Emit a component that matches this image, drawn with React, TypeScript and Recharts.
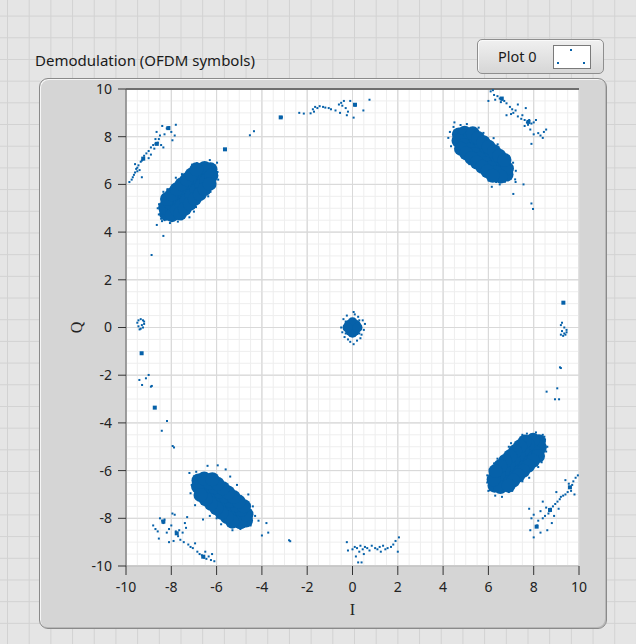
import { ScatterChart, Scatter, XAxis, YAxis, CartesianGrid, ReferenceLine } from 'recharts'

type Pt = [number, number]

const AXIS_TICKS = [-10, -8, -6, -4, -2, 0, 2, 4, 6, 8, 10]
const MINOR_LINES = [
  -9.5, -9, -8.5, -7.5, -7, -6.5, -5.5, -5, -4.5, -3.5, -3, -2.5, -1.5, -1, -0.5,
  0.5, 1, 1.5, 2.5, 3, 3.5, 4.5, 5, 5.5, 6.5, 7, 7.5, 8.5, 9, 9.5,
]

// dense constellation clouds (I, Q)
const coreUL: Pt[] = [
  [-8.23, 4.77], [-8.01, 4.98], [-7.79, 5.18], [-7.58, 5.39], [-7.36, 5.6], [-7.14, 5.8], [-6.92, 6.01], [-6.71, 6.22], [-6.49, 6.42], [-6.27, 6.63],
  [-8.27, 5.03], [-8.06, 5.24], [-7.84, 5.45], [-7.62, 5.65], [-7.4, 5.86], [-7.18, 6.07], [-6.97, 6.27], [-6.75, 6.48], [-6.53, 6.69],
  [-7.97, 4.71], [-7.75, 4.92], [-7.53, 5.13], [-7.32, 5.33], [-7.1, 5.54], [-6.88, 5.75], [-6.66, 5.95], [-6.45, 6.16], [-6.23, 6.37],
  [-8.19, 5.39], [-7.97, 5.59], [-7.76, 5.8], [-7.54, 6.01], [-7.32, 6.21], [-7.1, 6.42], [-6.89, 6.63],
  [-7.61, 4.78], [-7.4, 4.98], [-7.18, 5.19], [-6.96, 5.4], [-6.74, 5.6], [-6.53, 5.81], [-6.31, 6.02],
]
const coreUR: Pt[] = [
  [4.7, 8.09], [4.93, 7.91], [5.17, 7.72], [5.4, 7.53], [5.63, 7.34], [5.87, 7.16], [6.1, 6.97], [6.34, 6.78], [6.57, 6.59], [6.8, 6.41],
  [4.95, 8.17], [5.19, 7.98], [5.42, 7.8], [5.65, 7.61], [5.89, 7.42], [6.12, 7.23], [6.36, 7.05], [6.59, 6.86], [6.82, 6.67],
  [4.68, 7.83], [4.91, 7.64], [5.14, 7.45], [5.38, 7.27], [5.61, 7.08], [5.85, 6.89], [6.08, 6.7], [6.31, 6.52], [6.55, 6.33],
  [5.31, 8.14], [5.54, 7.95], [5.78, 7.77], [6.01, 7.58], [6.25, 7.39], [6.48, 7.2], [6.71, 7.02],
  [4.79, 7.49], [5.02, 7.3], [5.25, 7.11], [5.49, 6.92], [5.72, 6.74], [5.96, 6.55], [6.19, 6.36],
]
const coreLL: Pt[] = [
  [-4.7, -8.09], [-4.93, -7.91], [-5.17, -7.72], [-5.4, -7.53], [-5.63, -7.34], [-5.87, -7.16], [-6.1, -6.97], [-6.34, -6.78], [-6.57, -6.59], [-6.8, -6.41],
  [-4.95, -8.17], [-5.19, -7.98], [-5.42, -7.8], [-5.65, -7.61], [-5.89, -7.42], [-6.12, -7.23], [-6.36, -7.05], [-6.59, -6.86], [-6.82, -6.67],
  [-4.68, -7.83], [-4.91, -7.64], [-5.14, -7.45], [-5.38, -7.27], [-5.61, -7.08], [-5.85, -6.89], [-6.08, -6.7], [-6.31, -6.52], [-6.55, -6.33],
  [-5.31, -8.14], [-5.54, -7.95], [-5.78, -7.77], [-6.01, -7.58], [-6.25, -7.39], [-6.48, -7.2], [-6.71, -7.02],
  [-4.79, -7.49], [-5.02, -7.3], [-5.25, -7.11], [-5.49, -6.92], [-5.72, -6.74], [-5.96, -6.55], [-6.19, -6.36],
]
const coreLR: Pt[] = [
  [8.23, -4.77], [8.01, -4.98], [7.79, -5.18], [7.58, -5.39], [7.36, -5.6], [7.14, -5.8], [6.92, -6.01], [6.71, -6.22], [6.49, -6.42], [6.27, -6.63],
  [8.27, -5.03], [8.06, -5.24], [7.84, -5.45], [7.62, -5.65], [7.4, -5.86], [7.18, -6.07], [6.97, -6.27], [6.75, -6.48], [6.53, -6.69],
  [7.97, -4.71], [7.75, -4.92], [7.53, -5.13], [7.32, -5.33], [7.1, -5.54], [6.88, -5.75], [6.66, -5.95], [6.45, -6.16], [6.23, -6.37],
  [8.19, -5.39], [7.97, -5.59], [7.76, -5.8], [7.54, -6.01], [7.32, -6.21], [7.1, -6.42], [6.89, -6.63],
  [7.61, -4.78], [7.4, -4.98], [7.18, -5.19], [6.96, -5.4], [6.74, -5.6], [6.53, -5.81], [6.31, -6.02],
]
const coreCenter: Pt[] = [
  [0, 0], [0.15, 0.1], [-0.15, 0.1], [0.1, -0.15], [-0.1, -0.15], [0, 0.22], [0, -0.22], [0.22, 0], [-0.22, 0],
]

// loose samples around the clouds
const fuzzUL: Pt[] = [
  [-8.55, 4.74], [-8.06, 4.38], [-8.54, 5.17], [-7.53, 4.54], [-8.17, 5.8], [-6.91, 5.05], [-7.53, 6.43],
  [-6.27, 5.69], [-6.87, 6.89], [-5.96, 6.52], [-6.3, 7.02], [-8.41, 4.46], [-7.8, 6.28], [-6.37, 5.5],
  [-8.35, 5.69], [-5.93, 6.2], [-5.98, 6.91], [-7.71, 4.44], [-7.08, 6.83], [-7.0, 4.86], [-8.64, 4.3],
  [-8.35, 3.84], [-8.87, 3.04], [-8.4, 4.95], [-8.6, 5.0], [-7.2, 4.62],
  [-8.39, 5.45], [-7.56, 4.58], [-7.88, 5.93], [-7.05, 5.06], [-7.45, 6.34], [-6.62, 5.47], [-6.94, 6.82],
  [-6.11, 5.95], [-6.09, 6.8], [-8.45, 4.56], [-8.5, 4.9], [-8.3, 4.5],
]
const fuzzUR: Pt[] = [
  [4.46, 8.41], [4.23, 7.95], [5.05, 8.53], [4.56, 7.39], [5.78, 8.16], [5.16, 6.85], [6.41, 7.68],
  [5.8, 6.38], [6.91, 7.17], [6.73, 6.11], [7.21, 6.57], [7.18, 6.21], [6.01, 6.16], [6.34, 6.1],
  [5.57, 8.38], [7.09, 6.91], [6.23, 7.94], [4.77, 8.49], [4.3, 8.2], [4.35, 7.6], [4.5, 8.6],
  [6.5, 6.0], [6.15, 5.9], [7.55, 6.0], [7.1, 5.6], [7.9, 5.2], [7.97, 4.97], [7.2, 6.1],
  [5.35, 8.34], [4.6, 7.41], [5.89, 7.91], [5.14, 6.97], [6.36, 7.53], [5.61, 6.6], [6.91, 7.09],
  [6.16, 6.16], [7.0, 6.25], [4.5, 8.25],
]
const fuzzLL: Pt[] = [
  [-7.2, -6.1], [-7.1, -6.6], [-6.9, -6.05], [-6.4, -5.8], [-5.95, -5.78], [-5.4, -6.25], [-5.1, -6.6],
  [-4.6, -7.0], [-4.4, -7.5], [-4.3, -7.9], [-4.5, -8.3], [-4.95, -8.45], [-5.3, -8.5], [-5.8, -8.25],
  [-6.3, -7.9], [-6.6, -8.05], [-6.95, -7.45], [-7.15, -6.95], [-6.0, -8.0], [-4.15, -8.1], [-3.8, -8.2],
  [-3.72, -8.6], [-4.0, -8.72], [-2.8, -8.92], [-2.75, -8.96], [-5.6, -5.95],
  [-5.35, -8.34], [-4.6, -7.41], [-5.89, -7.91], [-5.14, -6.97], [-6.36, -7.53], [-5.61, -6.6], [-6.91, -7.09],
  [-6.16, -6.16], [-7.0, -6.25], [-4.5, -8.25],
]
const fuzzLR: Pt[] = [
  [8.5, -4.7], [8.1, -4.4], [8.55, -5.2], [7.5, -4.5], [8.2, -5.85], [6.9, -5.0], [7.5, -6.45],
  [6.25, -5.7], [6.9, -6.9], [5.95, -6.5], [6.3, -7.05], [8.4, -4.5], [7.8, -6.3], [6.4, -5.5],
  [8.35, -5.65], [5.95, -6.2], [6.0, -6.85], [7.7, -4.45], [7.05, -6.85], [7.0, -4.85], [6.6, -7.1],
  [8.6, -5.0], [8.38, -5.47], [7.55, -4.6], [7.9, -5.95], [7.04, -5.08], [7.43, -6.36], [6.6, -5.45],
  [6.95, -6.8], [6.12, -5.93], [6.07, -6.82], [8.47, -4.58],
]
const fuzzCenter: Pt[] = [
  [0.45, 0.3], [-0.4, 0.35], [0.35, -0.45], [-0.35, -0.4], [0.5, -0.1], [-0.5, 0.0], [0.1, 0.55],
  [-0.1, -0.6], [0.25, 0.45], [-0.25, 0.5], [0.4, -0.3], [-0.45, -0.2], [0.2, -0.55], [-0.2, -0.5],
  [0.55, 0.15], [0.05, 0.65], [0.05, -0.7], [0.3, 0.3], [-0.3, 0.25], [0.3, -0.25], [-0.3, -0.25],
]

// smeared symbols around the outer ring
const ringTop: Pt[] = [
  [-4.35, 8.23], [-3.2, 8.8], [-3.12, 8.82], [-2.35, 9.0], [-2.15, 8.97], [-1.85, 8.98], [-1.75, 9.15],
  [-1.65, 9.25], [-1.55, 9.2], [-1.45, 9.28], [-1.3, 9.25], [-1.2, 9.22], [-1.05, 9.2], [-0.95, 9.15],
  [-0.75, 9.1], [-0.6, 9.35], [-0.5, 9.42], [-0.45, 9.3], [-0.38, 9.5], [-0.3, 9.2], [-0.25, 8.9],
  [-0.2, 9.05], [0.05, 8.8], [0.1, 9.35], [0.12, 9.3], [0.48, 9.1], [0.75, 9.55], [-1.7, 9.05],
  [-0.55, 9.0], [-0.1, 9.5], [-4.53, 8.06], [-5.63, 7.47],
]
const ringBottom: Pt[] = [
  [-0.25, -9.0], [-0.2, -9.35], [0.0, -9.3], [0.1, -9.2], [0.2, -9.25], [0.3, -9.4], [0.35, -9.15],
  [0.45, -9.3], [0.55, -9.2], [0.65, -9.25], [0.75, -9.35], [0.85, -9.15], [1.0, -9.25], [1.1, -9.3],
  [1.2, -9.2], [1.35, -9.15], [1.45, -9.3], [1.55, -9.25], [1.7, -9.2], [1.8, -9.1], [1.9, -8.95],
  [2.0, -9.4], [2.05, -8.8], [0.5, -9.5], [0.15, -9.6], [0.25, -9.85], [0.4, -9.85], [1.25, -9.4],
]
const ringLeft: Pt[] = [
  [-9.45, 0.3], [-9.35, 0.35], [-9.25, 0.3], [-9.2, 0.15], [-9.25, 0.0], [-9.35, -0.05], [-9.45, 0.05],
  [-9.5, 0.2], [-9.3, 0.1], [-9.2, 0.25], [-9.4, -0.08], [-9.0, -1.99], [-9.41, -2.2], [-9.12, -2.13],
  [-9.29, -2.41], [-8.9, -2.48], [-8.86, -2.45], [-8.19, -3.92], [-8.42, -4.33], [-7.94, -4.97], [-7.88, -5.03],
]
const ringRight: Pt[] = [
  [9.2, 0.1], [9.25, 0.2], [9.35, 0.0], [9.45, -0.2], [9.4, -0.3], [9.3, -0.35], [9.2, -0.3],
  [9.25, -0.15], [9.35, -0.25], [9.45, -0.1], [9.16, -1.67], [9.2, -1.7], [8.57, -2.69], [9.04, -2.55],
  [8.94, -3.01], [9.12, -3.01],
]
const tailUL: Pt[] = [
  [-9.85, 6.1], [-9.7, 6.3], [-9.6, 6.5], [-9.55, 6.65], [-9.45, 6.8], [-9.35, 6.95], [-9.25, 7.05],
  [-9.2, 7.2], [-9.1, 7.3], [-9.3, 7.0], [-9.5, 6.55], [-9.75, 6.2], [-9.4, 6.6], [-9.0, 7.4],
  [-8.9, 7.55], [-8.8, 7.65], [-8.7, 7.7], [-8.6, 7.75], [-8.55, 7.9], [-8.7, 7.9], [-8.45, 7.65],
  [-8.5, 8.05], [-8.3, 8.1], [-8.2, 8.35], [-8.1, 8.4], [-8.4, 8.45], [-8.0, 8.2], [-7.85, 8.05],
  [-7.8, 8.5], [-8.65, 8.2], [-9.0, 7.1], [-9.6, 6.85], [-9.3, 6.3], [-8.9, 7.25], [-8.35, 7.55],
  [-7.95, 7.85], [-9.65, 6.4], [-9.5, 6.7], [-8.75, 7.5],
]
const tailUR: Pt[] = [
  [6.1, 9.9], [6.2, 9.95], [6.25, 9.75], [6.4, 9.7], [6.5, 9.6], [6.6, 9.55], [6.7, 9.5],
  [6.55, 9.45], [6.3, 9.55], [6.0, 9.5], [6.8, 9.4], [6.95, 9.25], [7.05, 9.15], [7.1, 9.0],
  [7.2, 9.1], [7.0, 8.95], [6.8, 8.9], [7.3, 8.85], [7.45, 8.75], [7.6, 8.7], [7.7, 8.6],
  [7.8, 8.7], [7.75, 8.5], [7.9, 8.55], [7.6, 8.45], [8.0, 8.6], [7.85, 8.3], [7.5, 8.9],
  [8.0, 8.1], [7.9, 7.7], [8.2, 8.15], [8.3, 8.05], [8.45, 8.2], [8.55, 8.3], [8.4, 7.95],
  [7.65, 9.2], [7.3, 9.35], [8.1, 8.7],
]
const tailLL: Pt[] = [
  [-8.8, -8.3], [-8.7, -8.45], [-8.6, -8.55], [-8.5, -8.0], [-8.4, -8.1], [-8.35, -8.2], [-8.3, -8.05],
  [-8.55, -8.85], [-8.2, -8.6], [-8.1, -8.45], [-8.0, -8.3], [-7.95, -7.8], [-7.85, -7.85], [-7.8, -8.55],
  [-7.75, -8.65], [-7.7, -8.75], [-7.65, -8.5], [-7.6, -8.9], [-7.5, -8.6], [-7.45, -9.0], [-7.35, -8.4],
  [-7.3, -7.95], [-7.25, -9.1], [-7.15, -9.2], [-7.05, -9.25], [-6.95, -9.05], [-6.85, -9.4], [-6.75, -9.5],
  [-6.65, -9.55], [-6.55, -9.65], [-6.45, -9.7], [-6.35, -9.6], [-6.25, -9.75], [-6.1, -9.8], [-6.5, -9.4],
  [-6.2, -9.5], [-7.9, -8.95], [-8.1, -9.0], [-7.4, -8.2],
]
const tailLR: Pt[] = [
  [9.95, -6.2], [9.85, -6.3], [9.75, -6.45], [9.7, -6.6], [9.6, -6.7], [9.55, -6.55], [9.65, -6.85],
  [9.5, -6.9], [9.4, -7.0], [9.3, -7.05], [9.2, -7.1], [9.15, -7.2], [9.05, -7.3], [8.95, -7.4],
  [8.85, -7.5], [8.75, -7.6], [8.7, -7.7], [8.65, -7.8], [8.55, -7.55], [8.5, -7.9], [8.4, -8.0],
  [8.3, -7.7], [8.2, -8.1], [8.1, -8.35], [8.15, -8.3], [8.0, -7.85], [7.9, -8.0], [7.85, -8.5],
  [8.0, -8.8], [8.3, -8.6], [8.6, -8.5], [8.9, -7.9], [9.1, -7.6], [9.4, -6.4], [9.0, -6.9],
  [8.4, -7.3], [7.8, -7.6], [9.8, -7.0], [8.8, -8.2],
]
// little solid clumps
const spots: Pt[] = [
  [-8.13, 8.36], [0.11, 9.34], [6.59, 9.6], [7.77, 8.62], [-9.31, -1.08], [-8.73, -3.36], [9.31, 1.04],
  [8.13, -8.35], [8.72, -7.65], [-7.76, -8.63], [-6.59, -9.61], [-8.35, -8.14], [-9.24, 7.08],
  [-8.64, 7.7], [-3.17, 8.81], [-5.63, 7.47], [9.6, -6.7],
]

const BLUE = '#0661a9'
const toPts = (arr: Pt[]) => arr.map(([i, q]) => ({ i, q }))

const coreData = toPts([...coreUL, ...coreUR, ...coreLL, ...coreLR])
const centerData = toPts(coreCenter)
const dotData = toPts([
  ...fuzzUL, ...fuzzUR, ...fuzzLL, ...fuzzLR, ...fuzzCenter,
  ...ringTop, ...ringBottom, ...ringLeft, ...ringRight,
  ...tailUL, ...tailUR, ...tailLL, ...tailLR,
])
const spotData = toPts(spots)

const circleShape = (r: number) => (p: any) => (
  <circle cx={p.cx} cy={p.cy} r={r} fill={BLUE} />
)
const squareShape = (s: number) => (p: any) => (
  <rect x={p.cx - s / 2} y={p.cy - s / 2} width={s} height={s} fill={BLUE} />
)

const uiFont = '"Noto Sans", "Open Sans", sans-serif'
const tickStyle = { fontFamily: uiFont, fontSize: 14, fill: '#222' }

export default function App() {
  return (
    <div
      style={{
        position: 'absolute',
        left: 0,
        top: 0,
        width: 636,
        height: 644,
        backgroundColor: '#e5e5e5',
        backgroundImage:
          'linear-gradient(#d2d2d2 1px, transparent 1px), linear-gradient(90deg, #d2d2d2 1px, transparent 1px)',
        backgroundSize: '21.7px 21.7px',
        backgroundPosition: '7px 15.6px',
        overflow: 'hidden',
      }}
    >
      {/* Title */}
      <div
        style={{
          position: 'absolute',
          left: 35,
          top: 50,
          fontFamily: uiFont,
          fontSize: 15,
          color: '#1a1a1a',
          whiteSpace: 'nowrap',
        }}
      >
        Demodulation (OFDM symbols)
      </div>

      {/* Plot legend */}
      <div
        style={{
          position: 'absolute',
          left: 477,
          top: 39,
          width: 127,
          height: 35,
          boxSizing: 'border-box',
          borderRadius: 5,
          border: '1px solid #8e8e8e',
          background: 'linear-gradient(#f0f0f0, #d6d6d6)',
          boxShadow: 'inset 1px 1px 0 #fafafa',
        }}
      >
        <span
          style={{
            position: 'absolute',
            left: 20,
            top: 6,
            fontFamily: uiFont,
            fontSize: 14.5,
            color: '#1a1a1a',
          }}
        >
          Plot 0
        </span>
        <div
          style={{
            position: 'absolute',
            left: 75,
            top: 5,
            width: 38,
            height: 24,
            boxSizing: 'border-box',
            background: '#fff',
            border: '1px solid #7a7a7a',
          }}
        >
          <span style={{ position: 'absolute', left: 16, top: 3, width: 2, height: 2, background: BLUE }} />
          <span style={{ position: 'absolute', left: 3, top: 16, width: 2, height: 2, background: BLUE }} />
          <span style={{ position: 'absolute', left: 29, top: 16, width: 2, height: 2, background: BLUE }} />
        </div>
      </div>

      {/* Graph frame */}
      <div
        style={{
          position: 'absolute',
          left: 39,
          top: 78,
          width: 568,
          height: 551,
          boxSizing: 'border-box',
          borderRadius: 9,
          border: '1px solid #8a8a8a',
          background: '#d5d5d5',
          boxShadow: 'inset 1px 1px 0 #f6f6f6, inset -1px -1px 0 #b8b8b8',
        }}
      />

      <div style={{ position: 'absolute', left: 0, top: 0 }}>
        <ScatterChart
          width={636}
          height={644}
          margin={{ top: 89, right: 57, bottom: 48, left: 86 }}
        >
          <CartesianGrid fill="#ffffff" stroke="#d9d9d9" />
          {MINOR_LINES.map((v) => (
            <ReferenceLine key={`mx${v}`} x={v} stroke="#eeeeee" />
          ))}
          {MINOR_LINES.map((v) => (
            <ReferenceLine key={`my${v}`} y={v} stroke="#eeeeee" />
          ))}
          {AXIS_TICKS.map((v) => (
            <ReferenceLine key={`Mx${v}`} x={v} stroke="#d9d9d9" />
          ))}
          {AXIS_TICKS.map((v) => (
            <ReferenceLine key={`My${v}`} y={v} stroke="#d9d9d9" />
          ))}
          <ReferenceLine y={10} stroke="#6e6e6e" strokeWidth={2} />
          <XAxis
            type="number"
            dataKey="i"
            domain={[-10, 10]}
            ticks={AXIS_TICKS}
            height={30}
            tick={tickStyle}
            tickSize={9}
            tickMargin={7}
            tickLine={{ stroke: '#333' }}
            axisLine={{ stroke: '#b5b5b5' }}
            label={{
              content: (p: any) => (
                <text
                  x={p.viewBox.x + p.viewBox.width / 2}
                  y={615}
                  textAnchor="middle"
                  fontFamily='"Liberation Serif", serif'
                  fontSize={16}
                  fill="#222"
                >
                  I
                </text>
              ),
            }}
          />
          <YAxis
            type="number"
            dataKey="q"
            domain={[-10, 10]}
            ticks={AXIS_TICKS}
            width={40}
            tick={tickStyle}
            tickSize={8}
            tickMargin={6}
            tickLine={{ stroke: '#333' }}
            axisLine={{ stroke: '#5a5a5a' }}
            label={{
              content: (p: any) => {
                const cy = p.viewBox.y + p.viewBox.height / 2
                return (
                  <text
                    x={82}
                    y={cy}
                    textAnchor="middle"
                    transform={`rotate(-90 82 ${cy})`}
                    fontFamily='"Liberation Serif", serif'
                    fontSize={16}
                    fill="#222"
                  >
                    Q
                  </text>
                )
              },
            }}
          />
          <Scatter data={dotData} shape={squareShape(2)} isAnimationActive={false} />
          <Scatter data={spotData} shape={squareShape(4)} isAnimationActive={false} />
          <Scatter data={coreData} shape={circleShape(7)} isAnimationActive={false} />
          <Scatter data={centerData} shape={circleShape(5)} isAnimationActive={false} />
        </ScatterChart>
      </div>
    </div>
  )
}
